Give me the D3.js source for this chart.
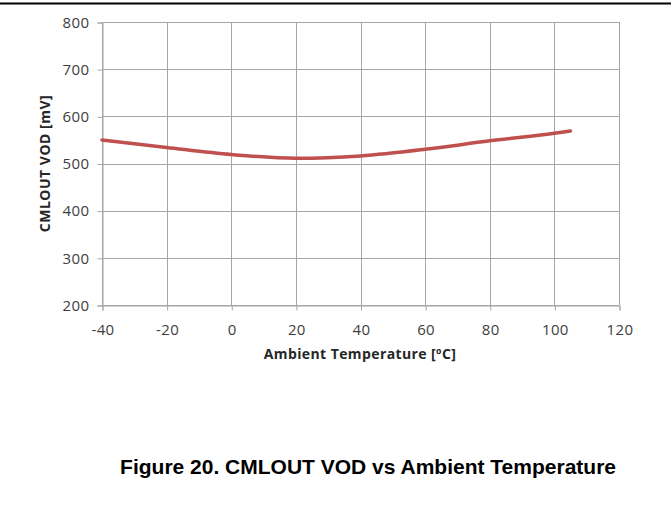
<!DOCTYPE html>
<html><head><meta charset="utf-8">
<script src="https://cdn.jsdelivr.net/npm/d3@7"></script>
<style>body{margin:0;background:#fff}svg{display:block}</style>
</head><body>
<svg id="c" width="671" height="514"></svg>
<script>
const temps = [-40, -20, 0, 20, 40, 60, 80, 100, 105];
const vod = [550, 534, 519, 511, 516, 530, 548, 564, 569];
const xTicks = [-40, -20, 0, 20, 40, 60, 80, 100, 120];
const yTicks = [200, 300, 400, 500, 600, 700, 800];
const xTitle = "Ambient Temperature [ºC]";
const yTitle = "CMLOUT VOD [mV]";
const caption = "Figure 20. CMLOUT VOD vs Ambient Temperature";

const svg = d3.select("#c");
const L = 102, R = 619, T = 22, B = 305;
const x = d3.scaleLinear().domain([-40, 120]).range([L, R]);
const y = d3.scaleLinear().domain([200, 800]).range([B, T]);
const grid = "#a6a6a6";
const font = "'Open Sans', sans-serif";

svg.append("line").attr("x1",0).attr("x2",671).attr("y1",3.5).attr("y2",3.5)
  .attr("stroke","#000").attr("stroke-width",2);

// gridlines
svg.append("g").selectAll("line").data(yTicks).join("line")
  .attr("x1",L).attr("x2",R).attr("y1",d=>Math.round(y(d))+0.5).attr("y2",d=>Math.round(y(d))+0.5)
  .attr("stroke",grid).attr("stroke-width",1);
svg.append("g").selectAll("line").data(xTicks).join("line")
  .attr("x1",d=>Math.round(x(d))+0.5).attr("x2",d=>Math.round(x(d))+0.5).attr("y1",T).attr("y2",B)
  .attr("stroke",grid).attr("stroke-width",1);

// axes
const ya = svg.append("g").attr("transform",`translate(${L+0.5},0.5)`)
  .call(d3.axisLeft(y).tickValues(yTicks).tickSize(5).tickPadding(8).tickFormat(d3.format("d")));
const xa = svg.append("g").attr("transform",`translate(0.5,${B+0.5})`)
  .call(d3.axisBottom(x).tickValues(xTicks).tickSize(5).tickPadding(14).tickFormat(d3.format("d")));
[ya, xa].forEach(a => {
  a.select(".domain").attr("stroke",grid);
  a.selectAll(".tick line").attr("stroke",grid);
  a.selectAll("text").attr("fill","#404040").style("font-family",font).style("font-size","15px")
    .style("letter-spacing","0.4px");
});
xa.selectAll("text").text(d => d < 0 ? "-" + Math.abs(d) : d);

// line
const line = d3.line().x(d=>x(d[0])).y(d=>y(d[1])).curve(d3.curveMonotoneX);
svg.append("path").datum(temps.map((t,i)=>[t, vod[i]]))
  .attr("d", line).attr("fill","none").attr("stroke","#c0504d")
  .attr("stroke-width",3.5).attr("stroke-linecap","round");

// titles
svg.append("text").attr("x",360).attr("y",359).attr("text-anchor","middle")
  .style("font-family",font).style("font-size","14px").style("font-weight","bold")
  .style("letter-spacing","0.4px")
  .attr("fill","#262626").text(xTitle);
svg.append("text").attr("transform",`translate(50,${(T+B)/2}) rotate(-90)`).attr("text-anchor","middle")
  .style("font-family",font).style("font-size","14px").style("font-weight","bold")
  .style("letter-spacing","0.5px")
  .attr("fill","#262626").text(yTitle);

svg.append("text").attr("x",616).attr("y",474).attr("text-anchor","end")
  .style("font-family","'Liberation Sans', Arial, sans-serif").style("font-size","21px").style("font-weight","bold")
  .attr("fill","#000").text(caption);
</script>
</body></html>
